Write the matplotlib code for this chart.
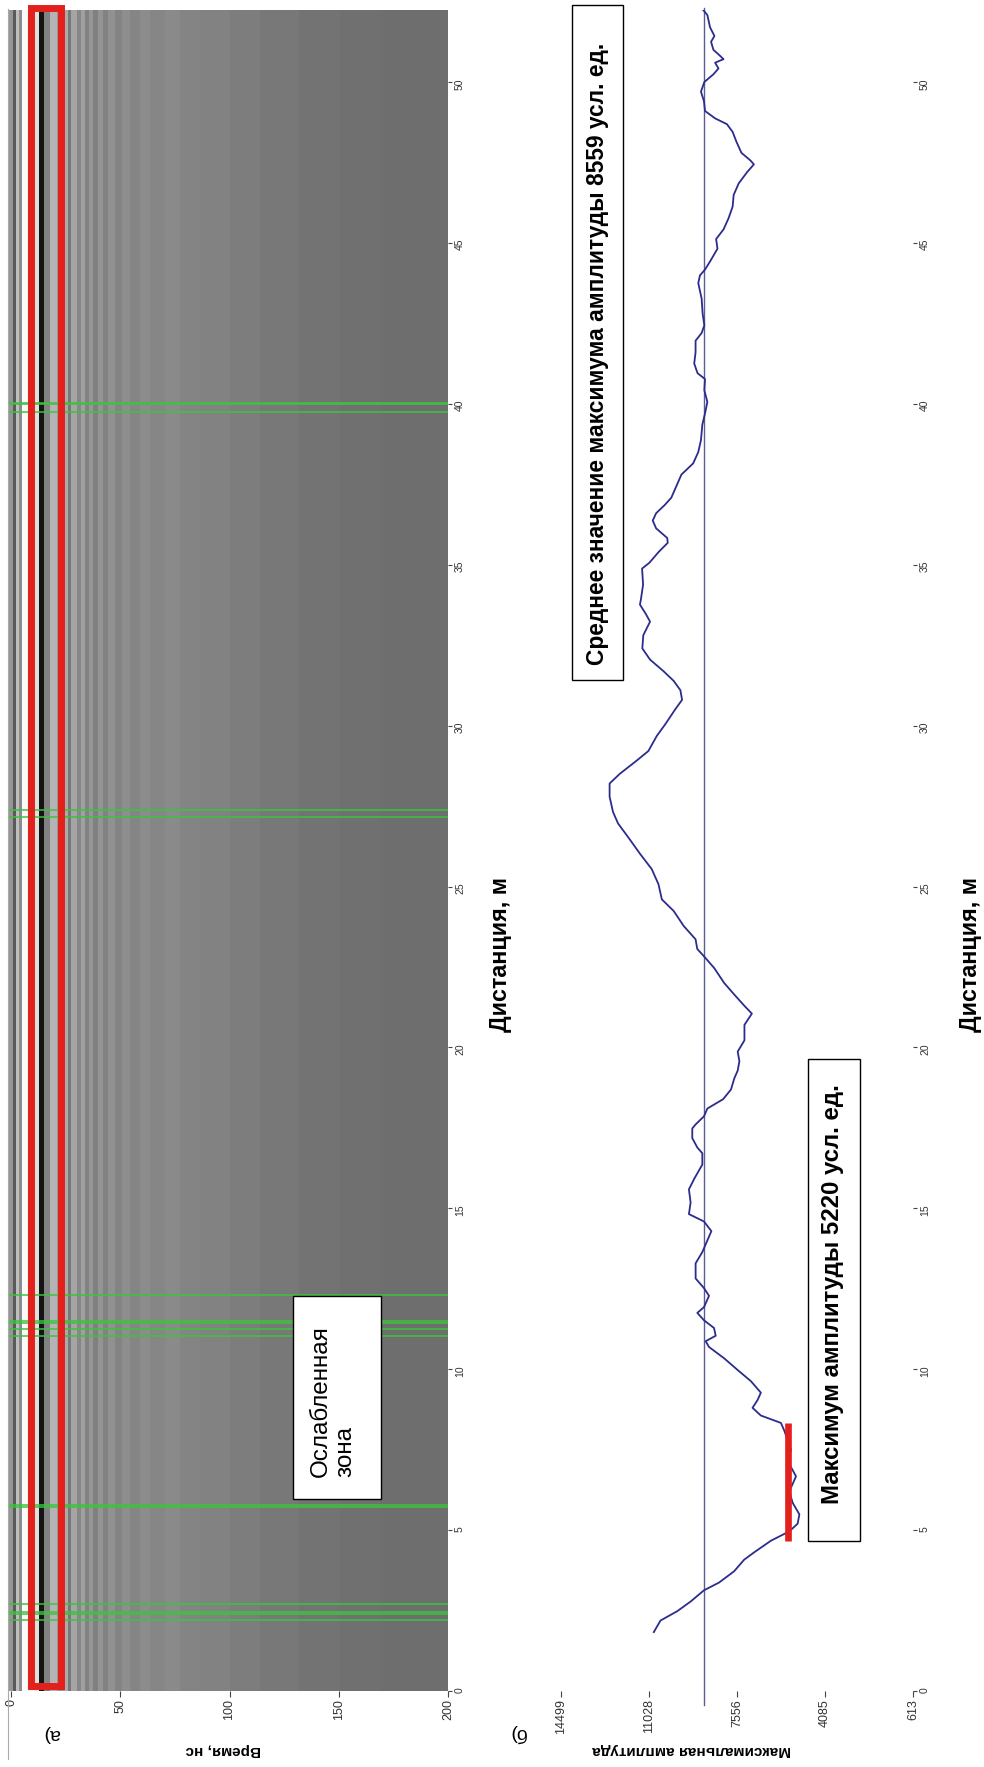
import numpy as np
import matplotlib.pyplot as plt
from matplotlib.patches import Rectangle
from matplotlib.lines import Line2D

plt.rcParams['font.family'] = ['Liberation Sans', 'DejaVu Sans']

# --- radargram: mean grey level of the traces across time
trace_edges_ns = [-1.0, 0.9, 2.3, 3.7, 5.0, 7.3, 10.5, 12.8, 15.1, 17.8, 21.1,
                  24.3, 26.1, 27.5, 30.2, 32.0, 33.9, 35.7, 37.5, 39.8, 42.1,
                  44.4, 47.6, 50.8, 54.5, 59.0, 63.6, 70.5, 77.3, 86.5, 100,
                  114, 132, 150.6, 169, 200]
trace_gray = [150, 90, 190, 140, 250, 240, 225, 20, 130, 180,
              150, 170, 120, 165, 135, 160, 130, 150, 128, 148,
              130, 145, 132, 142, 133, 140, 134, 138, 132, 130,
              125, 120, 115, 112, 110]
profile_len_m = 52.25

# distances of the marked traces (green lines), m
marked_traces_m = [2.22, 2.40, 2.46, 2.71, 5.71, 5.77, 11.02, 11.25, 11.44,
                   11.50, 12.31, 27.16, 27.38, 39.74, 39.98, 40.04]

# window of the first arrival (red frame), ns / m
window_ns = (9.1, 22.7)
window_m = (0.15, 52.3)

# --- maximum amplitude along the profile
dist_m = [1.83, 2.19, 2.48, 2.78, 3.13, 3.37, 3.72, 4.08, 4.31, 4.67, 4.96, 5.2,
          5.49, 5.85, 6.2, 6.67, 7.15, 7.5, 8.09, 8.33, 8.56, 8.8, 9.04, 9.27,
          9.63, 9.98, 10.34, 10.69, 10.87, 11.04, 11.28, 11.52, 11.75, 11.93,
          12.28, 12.52, 12.82, 13.29, 13.64, 14.0, 14.29, 14.59, 14.82, 15.18,
          15.59, 15.94, 16.36, 16.71, 16.89, 17.18, 17.48, 17.6, 17.86, 18.1,
          18.39, 18.69, 19.04, 19.28, 19.57, 19.87, 20.22, 20.7, 21.05, 21.29,
          21.64, 22.0, 22.47, 22.83, 23.06, 23.36, 23.77, 24.24, 24.6, 25.07,
          25.54, 26.02, 26.49, 26.96, 27.32, 27.79, 28.2, 28.5, 28.91, 29.21,
          29.68, 30.04, 30.51, 30.8, 31.1, 31.39, 31.69, 32.05, 32.4, 32.81,
          33.23, 33.46, 33.76, 33.93, 34.38, 34.88, 35.06, 35.38, 35.68, 35.83,
          36.13, 36.37, 36.6, 36.85, 37.08, 37.44, 37.8, 38.15, 38.5, 38.87,
          39.35, 39.7, 40.06, 40.42, 40.77, 40.95, 41.25, 41.6, 41.96, 42.2,
          42.44, 42.8, 43.27, 43.75, 43.99, 44.17, 44.46, 44.82, 45.12, 45.42,
          45.77, 46.13, 46.49, 46.85, 47.2, 47.44, 47.56, 47.8, 48.15, 48.45,
          48.69, 48.87, 49.1, 49.4, 49.7, 50.0, 50.24, 50.42, 50.6, 50.71,
          50.83, 51.0, 51.25, 51.43, 51.7, 52.08, 52.26]
max_amp = [10554, 10288, 9623, 9091, 8559, 7960, 7362, 6963, 6564, 5899, 5168, 4835,
           4768, 5035, 5168, 4901, 5234, 5101, 5367, 5500, 6298, 6630, 6431, 6298,
           6697, 7229, 7761, 8359, 8492, 8093, 8160, 8559, 8825, 8559,
           8359, 8559, 8892, 8892, 8625, 8426, 8266, 8559, 9158, 9091,
           9158, 8931, 8625, 8625, 8825, 9025, 9025, 8900, 8559, 8425,
           7800, 7487, 7353, 7219, 7152, 7219, 6951, 6951, 6656, 6951,
           7353, 7755, 8157, 8559, 8827, 8894, 9363, 9765, 10234, 10368,
           10636, 11105, 11534, 11976, 12177, 12311, 12311, 11909, 11239, 10770,
           10435, 10100, 9698, 9430, 9497, 9765, 10167, 10703, 11011, 10971,
           10703, 10864, 11105, 11065, 10980, 11020, 10730, 10380, 10000, 10020,
           10462, 10596, 10462, 10127, 9859, 9658, 9457, 8988, 8787, 8680,
           8626, 8519, 8425, 8545, 8519, 8814, 8948, 8894, 8894, 8653,
           8545, 8613, 8653, 8787, 8720, 8519, 8291, 8023, 8077, 7782,
           7581, 7420, 7380, 7179, 6844, 6576, 6710, 7072, 7273, 7420,
           7648, 8117, 8519, 8559, 8680, 8545, 8184, 7983, 8117, 7782,
           7943, 8184, 8278, 8144, 8318, 8425, 8613]
mean_amp = 8559
zone_amp = 5220
zone_m = (4.67, 8.33)
mean_span_m = (-0.45, 52.3)

amp_lim = (251, 14243)
amp_tick_labels = ['613', '4085', '7556', '11028', '14499']
time_ticks = [0, 50, 100, 150, 200]
dist_ticks = list(range(0, 55, 5))

W, H = 984, 1767
fig = plt.figure(figsize=(W / 100, H / 100), dpi=100)


def rect(x0, y0, x1, y1):
    # page pixels (y from the top) -> figure fraction
    return [x0 / W, 1 - y1 / H, (x1 - x0) / W, (y1 - y0) / H]


def pt(x, y):
    return x / W, 1 - y / H


ax_r = fig.add_axes(rect(8.16, 9.6, 448, 1691))
ax_a = fig.add_axes(rect(561, 9.6, 913, 1691))

# radargram
ax_r.pcolormesh(trace_edges_ns, [0, profile_len_m], np.array([trace_gray]),
                cmap='gray', vmin=0, vmax=255, shading='flat')
for d in marked_traces_m:
    ax_r.axhline(d, color='#3cc43c', lw=1.1, zorder=3)
ax_r.add_patch(Rectangle((window_ns[0], window_m[0]), window_ns[1] - window_ns[0],
                         window_m[1] - window_m[0], fill=False, ec='#e3201b',
                         lw=5, clip_on=False, zorder=5))
ax_r.set_xlim(-1.3, 200)
ax_r.set_ylim(0, profile_len_m)

# amplitude
ax_a.plot([mean_amp, mean_amp], mean_span_m, color='#5a5c96', lw=1.0, clip_on=False)
ax_a.plot(max_amp, dist_m, color='#2b2c8c', lw=1.3)
ax_a.plot([zone_amp, zone_amp], zone_m, color='#e3201b', lw=4.8,
          solid_capstyle='butt', zorder=4)
ax_a.set_xlim(amp_lim[1], amp_lim[0])
ax_a.set_ylim(0, profile_len_m)
ax_a.set_xticks(np.linspace(amp_lim[0], amp_lim[1], 5))
ax_a.set_xticklabels(amp_tick_labels)

ax_r.set_xticks(time_ticks)
for ax in (ax_r, ax_a):
    for s in ax.spines.values():
        s.set_visible(False)
    ax.yaxis.tick_right()
    ax.set_yticks(dist_ticks)
    ax.tick_params(axis='x', length=4, width=0.8, color='#444444',
                   labelcolor='#333333', labelrotation=90, labelsize=9, pad=2)
    ax.tick_params(axis='y', length=3, width=0.8, color='#444444',
                   labelcolor='#333333', labelrotation=90, labelsize=7.5, pad=2)

# frames with captions
fig.add_artist(Line2D([8 / W, 8 / W], [1 - 9 / H, 1 - 1759 / H],
                      color='#aaaaaa', lw=0.8))
for x0, y0, x1, y1 in [(293, 1296, 381, 1499), (572, 5, 623, 680), (808, 1059, 860, 1541)]:
    fig.add_artist(Rectangle(pt(x0, y1), (x1 - x0) / W, (y1 - y0) / H,
                             transform=fig.transFigure, fc='white', ec='black',
                             lw=1.0, zorder=6))

fig.text(*pt(310, 1477), 'Ослабленная\nзона', rotation=90, rotation_mode='anchor',
         ha='left', va='top', fontsize=17.5, linespacing=1.15, zorder=7)
fig.text(*pt(597.5, 354), 'Среднее значение максимума амплитуды 8559 усл. ед.',
         rotation=90, ha='center', va='center', fontsize=16.4, fontweight='bold', zorder=7)
fig.text(*pt(833, 1294), 'Максимум амплитуды 5220 усл. ед.',
         rotation=90, ha='center', va='center', fontsize=17.3, fontweight='bold', zorder=7)

fig.text(*pt(500, 954), 'Дистанция, м', rotation=90, ha='center', va='center',
         fontsize=16.8, fontweight='bold')
fig.text(*pt(970.5, 954), 'Дистанция, м', rotation=90, ha='center', va='center',
         fontsize=16.8, fontweight='bold')
fig.text(*pt(223, 1750), 'Время, нс', rotation=180, ha='center', va='center',
         fontsize=11, fontweight='bold')
fig.text(*pt(692, 1750), 'Максимальная амплитуда', rotation=180, ha='center',
         va='center', fontsize=11, fontweight='bold')
fig.text(*pt(51, 1733), 'а)', rotation=180, ha='center', va='center', fontsize=14)
fig.text(*pt(517, 1733), 'б)', rotation=180, ha='center', va='center', fontsize=14)

fig.savefig('out.png', dpi=100)
